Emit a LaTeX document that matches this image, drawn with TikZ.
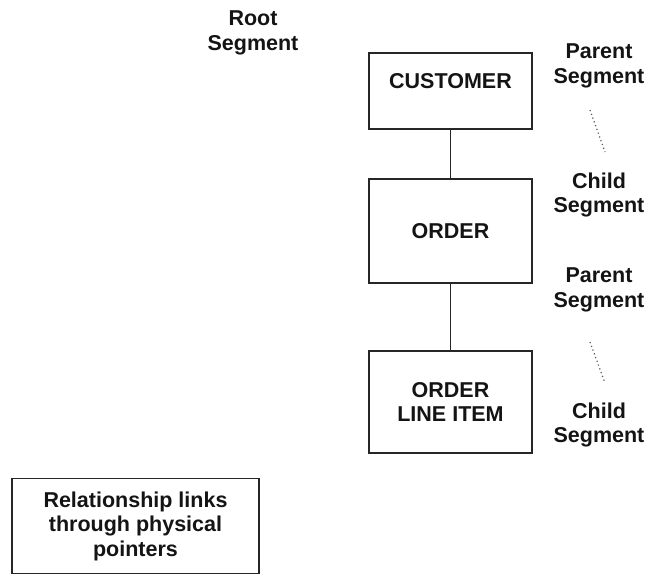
\documentclass[tikz,border=0pt]{standalone}
\usepackage{fontspec}
\setmainfont{Liberation Sans}
\begin{document}
\begin{tikzpicture}[x=1pt,y=-1pt,
  box/.style={draw=black!85,line width=1.8pt,minimum width=163pt,inner sep=0pt},
  lbl/.style={font=\fontsize{21.5}{24.5}\selectfont\bfseries,text=black!92,align=center,inner sep=0pt},
  dots/.style={black!65,line width=1.2pt,dash pattern=on 1.2pt off 2.8pt}]
\useasboundingbox (0,0) rectangle (648,575);
% boxes
\node[box,minimum height=76pt] (cust) at (450.5,91) {};
\node[lbl] (custt) at (450.5,81) {CUSTOMER};
\node[box,minimum height=104pt,lbl] (order) at (450.5,231) {ORDER};
\node[box,minimum height=102pt,lbl] (oli) at (450.5,402) {ORDER\\LINE ITEM};
\node[draw=black!85,line width=1.8pt,minimum width=247pt,minimum height=95pt,inner sep=0pt,lbl] (rel) at (135.5,526) {Relationship links\\through physical\\pointers};
% connectors
\draw[black!85,line width=1.8pt] (cust.south) -- (order.north);
\draw[black!85,line width=1.8pt] (order.south) -- (oli.north);
% side labels
\node[lbl] (root) at (253,33) {Root\\Segment};
\node[lbl] (p1) at (599,66) {Parent\\Segment};
\node[lbl] (c1) at (599,195) {Child\\Segment};
\node[lbl] (p2) at (599,290) {Parent\\Segment};
\node[lbl] (c2) at (599,425) {Child\\Segment};
% dotted links
\coordinate (d1a) at (590,110);
\coordinate (d1b) at (605,152);
\coordinate (d2a) at (590,342);
\coordinate (d2b) at (605,383);
\draw[dots] (d1a) -- (d1b);
\draw[dots] (d2a) -- (d2b);
\end{tikzpicture}
\end{document}
